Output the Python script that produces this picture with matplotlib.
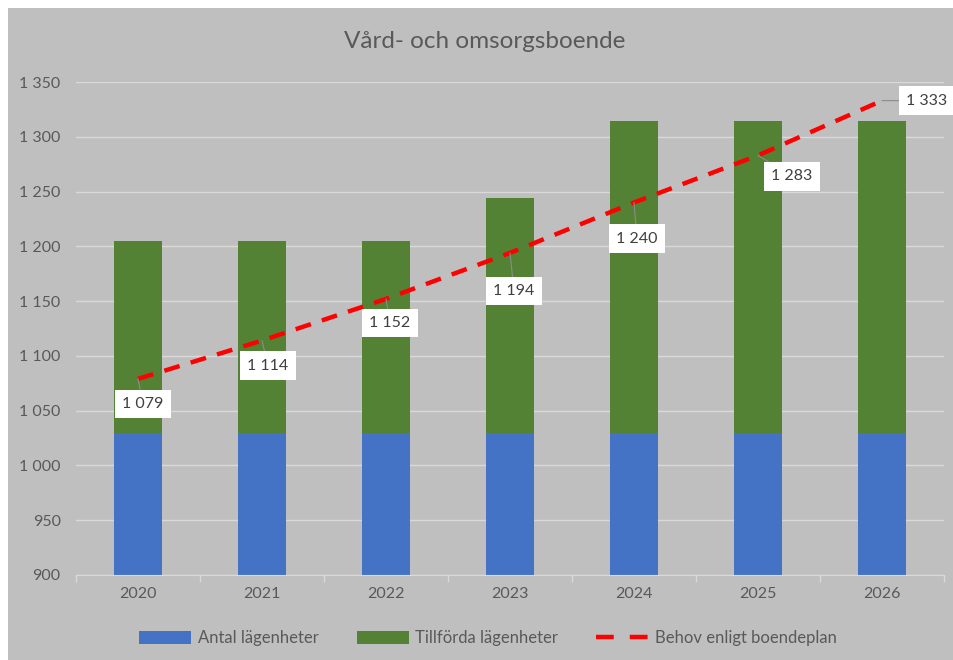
import matplotlib
matplotlib.use("Agg")
import matplotlib.pyplot as plt
from matplotlib.patches import Rectangle
from matplotlib.lines import Line2D
from matplotlib.patches import Patch

years = ["2020", "2021", "2022", "2023", "2024", "2025", "2026"]
antal = [1030, 1030, 1030, 1030, 1030, 1030, 1030]
tillforda = [175, 175, 175, 214, 284, 284, 284]
behov = [1079, 1114, 1152, 1194, 1240, 1283, 1333]
yticks = [900, 950, 1000, 1050, 1100, 1150, 1200, 1250, 1300, 1350]
# label offsets in pixels (dx, dy) from point
label_off = [(5, -25), (6, -25), (4, -24), (4, -38), (3, -36), (34, -21), (45, 0)]

plt.rcParams['font.family'] = ['Lato', 'DejaVu Sans']
W, H = 954, 660
fig = plt.figure(figsize=(W / 100, H / 100), dpi=100)
fig.patch.set_facecolor("white")
bg = Rectangle((8 / W, 0), 1 - 8 / W, 1 - 8 / H, transform=fig.transFigure,
               facecolor="#BFBFBF", edgecolor="none", zorder=-10)
fig.add_artist(bg)

ax = fig.add_axes([76 / W, 1 - 575 / H, (944 - 76) / W, (575 - 82) / H])
ax.set_zorder(1)
ax.set_facecolor("none")
x = list(range(len(years)))
ax.bar(x, antal, width=0.39, color="#4472C4", zorder=3, bottom=0)
ax.bar(x, tillforda, width=0.39, bottom=antal, color="#548235", zorder=3)
ax.plot(x, behov, color="#FF0000", lw=3.2, dashes=(3.6, 2.6), zorder=4, solid_capstyle="butt")

ax.set_ylim(900, 1350)
ax.set_xlim(-0.5, len(years) - 0.5)
ax.set_yticks(yticks)
ax.set_yticklabels([f"{v:,}".replace(",", " ") for v in yticks], color="#595959", fontsize=11.5)
ax.set_xticks(x)
ax.set_xticklabels(years, color="#595959", fontsize=11.5)
ax.tick_params(axis="y", length=0, pad=11)
ax.tick_params(axis="x", length=0, pad=9)
ax.set_xticks([i + 0.5 for i in range(-1, len(years))], minor=True)
ax.tick_params(axis="x", which="minor", length=5, color="#D9D9D9", width=1)
ax.grid(axis="y", color="#D9D9D9", lw=1, zorder=1)
for s in ["top", "right", "left"]:
    ax.spines[s].set_visible(False)
ax.spines["bottom"].set_color("#D9D9D9")
ax.spines["bottom"].set_zorder(5)

for i, v in enumerate(behov):
    dx, dy = label_off[i]
    ax.annotate(f"{v:,}".replace(",", " "), xy=(i, v), xytext=(dx * 0.72, dy * 0.72),
                textcoords="offset points", ha="center", va="center", fontsize=11.5, color="#404040",
                bbox=dict(boxstyle="square,pad=0.45", fc="white", ec="none"),
                arrowprops=dict(arrowstyle="-", color="#8C8C8C", lw=0.8, shrinkA=0, shrinkB=0),
                zorder=6)

fig.text(485 / W, 1 - 42 / H, "Vård- och omsorgsboende", ha="center", va="center",
         fontsize=17.5, color="#595959")

handles = [Patch(facecolor="#4472C4", label="Antal lägenheter"),
           Patch(facecolor="#548235", label="Tillförda lägenheter"),
           Line2D([0], [0], color="#FF0000", lw=3.2, dashes=(4, 3.6), label="Behov enligt boendeplan")]
fig.legend(handles=handles, loc="center", bbox_to_anchor=(488 / W, 1 - 638 / H), ncol=3,
           frameon=False, fontsize=12, labelcolor="#595959", handlelength=3.1, handleheight=0.8,
           columnspacing=2.3, handletextpad=0.4)

fig.savefig("out.png", dpi=100, facecolor=fig.get_facecolor())
